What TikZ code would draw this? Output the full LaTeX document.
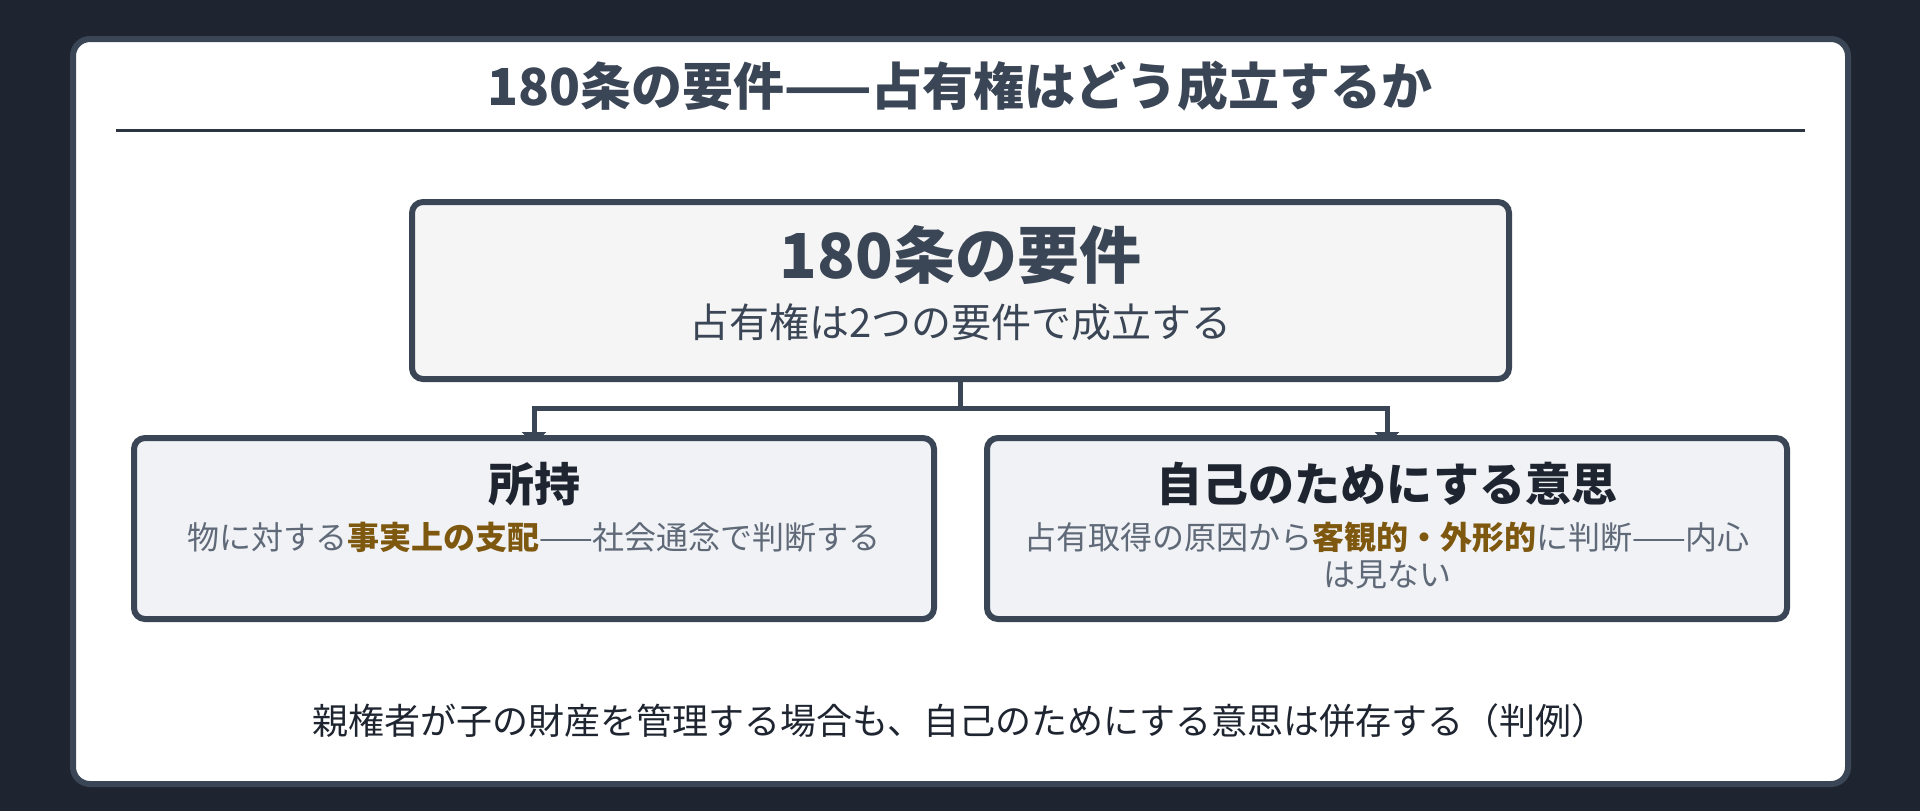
\documentclass[tikz,border=0pt]{standalone}
\usepackage{fontspec}
\setmainfont{Noto Sans CJK JP}
\usetikzlibrary{arrows.meta,backgrounds}

\definecolor{pagebg}{HTML}{1E2530}
\definecolor{slate}{HTML}{3A4555}
\definecolor{rulecol}{HTML}{2D3540}
\definecolor{topfill}{HTML}{F5F5F5}
\definecolor{subfill}{HTML}{F0F2F5}
\definecolor{bodygrey}{HTML}{5F6978}
\definecolor{keybrown}{HTML}{7F5810}
\definecolor{inkdark}{HTML}{1E2530}
\newcommand{\keyword}[1]{{\bfseries\color{keybrown}#1}}

\begin{document}
\begin{tikzpicture}[x=0.5pt,y=-0.5pt,
		box/.style={draw=slate,line width=3pt,rounded corners=5.5pt,inner sep=0pt},
		txt/.style={anchor=base,inner sep=0pt,outer sep=0pt},
		link/.style={draw=slate,line width=2.5pt,-{Triangle[width=12pt,length=6pt]},shorten >=-4.5pt}]
			\useasboundingbox (0,0) rectangle (1920,811);
			\begin{scope}[on background layer]
				\fill[pagebg] (0,0) rectangle (1920,811);
				\draw[slate,line width=3pt,fill=white,rounded corners=8.5pt] (73,39) rectangle (1848,784);
			\end{scope}

			\node (title) at (960,105)[txt,slate,font=\fontsize{25.5}{30}\selectfont\bfseries]{180条の要件——占有権はどう成立するか};
			\draw[rulecol,line width=1.5pt] (116,130.5) -- (1805,130.5);

			% top box
			\node (req) at (960.5,290.5)[box,fill=topfill,minimum width=548.5pt,minimum height=88.5pt]{};
			\node (reqhead) at (960.5,278)[txt,slate,font=\fontsize{31}{36}\selectfont\bfseries]{180条の要件};
			\node (reqsub) at (960.5,337)[txt,slate,font=\fontsize{20}{24}\selectfont]{占有権は2つの要件で成立する};

			% two requirements
			\node (hold) at (534,528.5)[box,fill=subfill,minimum width=400pt,minimum height=90.5pt]{};
			\node (will) at (1387,528.5)[box,fill=subfill,minimum width=400pt,minimum height=90.5pt]{};

			\node (holdhead) at (534,501)[txt,inkdark,font=\fontsize{23}{28}\selectfont\bfseries]{所持};
			\node (holdbody) at (534,549)[txt,bodygrey,font=\fontsize{16}{18.5}\selectfont]{物に対する\keyword{事実上の支配}——社会通念で判断する};

			\node (willhead) at (1387,501)[txt,inkdark,font=\fontsize{23}{28}\selectfont\bfseries]{自己のためにする意思};
			% base of a two-line node sits on its last line
			\node (willbody) at (1387,586)[txt,bodygrey,align=center,font=\fontsize{16}{18.5}\selectfont]{占有取得の原因から\keyword{客観的・外形的}に判断——内心\\は見ない};

			\begin{scope}[on background layer]
				\draw[link] (req.south) -- ++(0,26.5) -| (hold.north);
				\draw[link] (req.south) -- ++(0,26.5) -| (will.north);
			\end{scope}

			\node (note) at (960,734)[txt,inkdark,font=\fontsize{18}{22}\selectfont]{親権者が子の財産を管理する場合も、自己のためにする意思は併存する（判例）};
		\end{tikzpicture}
\end{document}
